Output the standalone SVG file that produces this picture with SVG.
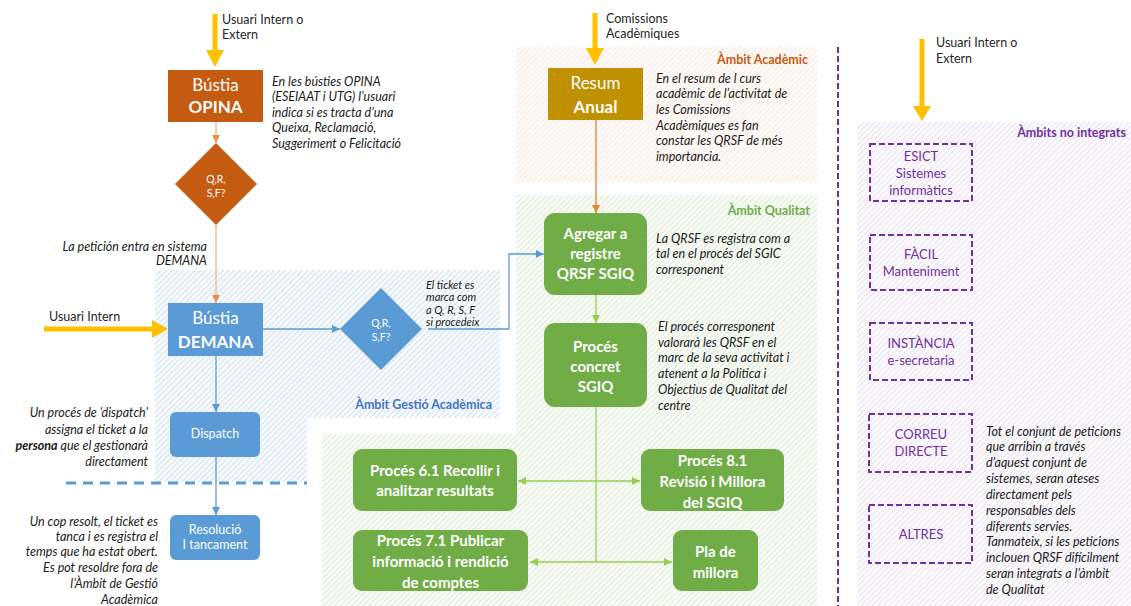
<svg xmlns="http://www.w3.org/2000/svg" width="1131" height="606" viewBox="0 0 1131 606">
<style>
text{font-family:Lato,"Liberation Sans",sans-serif;}
.lbl{font-size:12.5px;fill:#262626;}
.ann{font-size:12.5px;font-style:italic;fill:#1a1a1a;}
.ann2{font-size:11px;font-style:italic;fill:#1a1a1a;}
.annr{font-size:12.5px;font-style:italic;fill:#1a1a1a;text-anchor:end;}
.bt{fill:#fff;text-anchor:middle;}
.big{font-size:17px;}
.bold{font-weight:bold;}
.gt{font-size:15px;font-weight:bold;fill:#fff;text-anchor:middle;}
.sm{font-size:12.5px;}
.dt{font-size:10.5px;fill:#fff;text-anchor:middle;}
.pt{font-size:13px;fill:#7030A0;text-anchor:middle;}
.reg{font-size:12.5px;font-weight:bold;text-anchor:end;}
.yel{fill:#FFC000;}
.ys{stroke:#FFC000;stroke-width:5;fill:none;}
.co{stroke:#F4B183;stroke-width:1.3;fill:none;marker-end:url(#ao);}
.co2{stroke:#ED7D31;stroke-width:1.3;fill:none;marker-end:url(#ao2);}
.cb{stroke:#5B9BD5;stroke-width:1.3;fill:none;marker-end:url(#ab);}
.cg{stroke:#92D050;stroke-width:1.3;fill:none;}
.cga{stroke:#92D050;stroke-width:1.3;fill:none;marker-start:url(#ags);marker-end:url(#ag);}
.pd{fill:none;stroke:#7030A0;stroke-width:2;stroke-dasharray:6 3;}
</style>
<defs>
<pattern id="hb" width="4" height="4" patternUnits="userSpaceOnUse" patternTransform="rotate(45)"><rect width="4" height="4" fill="#fff"/><line x1="1" y1="0" x2="1" y2="4" stroke="#C9DCF0" stroke-width="1.2"/></pattern>
<pattern id="hg" width="4" height="4" patternUnits="userSpaceOnUse" patternTransform="rotate(45)"><rect width="4" height="4" fill="#fff"/><line x1="1" y1="0" x2="1" y2="4" stroke="#D6E9C8" stroke-width="1.2"/></pattern>
<pattern id="ho" width="4" height="4" patternUnits="userSpaceOnUse" patternTransform="rotate(45)"><rect width="4" height="4" fill="#fff"/><line x1="1" y1="0" x2="1" y2="4" stroke="#FBE5D9" stroke-width="1.2"/></pattern>
<pattern id="hp" width="4" height="4" patternUnits="userSpaceOnUse" patternTransform="rotate(45)"><rect width="4" height="4" fill="#fff"/><line x1="1" y1="0" x2="1" y2="4" stroke="#E6DDF1" stroke-width="1.2"/></pattern>
<marker id="ao" markerUnits="userSpaceOnUse" markerWidth="9" markerHeight="8" refX="8" refY="4" orient="auto"><path d="M0,0 L8,4 L0,8 z" fill="#F08A4B"/></marker>
<marker id="ao2" markerUnits="userSpaceOnUse" markerWidth="9" markerHeight="8" refX="8" refY="4" orient="auto"><path d="M0,0 L8,4 L0,8 z" fill="#ED7D31"/></marker>
<marker id="ab" markerUnits="userSpaceOnUse" markerWidth="9" markerHeight="8" refX="8" refY="4" orient="auto"><path d="M0,0 L8,4 L0,8 z" fill="#5B9BD5"/></marker>
<marker id="ag" markerUnits="userSpaceOnUse" markerWidth="9" markerHeight="8" refX="8" refY="4" orient="auto"><path d="M0,0 L8,4 L0,8 z" fill="#92D050"/></marker>
<marker id="ags" markerUnits="userSpaceOnUse" markerWidth="9" markerHeight="8" refX="0" refY="4" orient="auto"><path d="M8,0 L0,4 L8,8 z" fill="#92D050"/></marker>
</defs>
<rect width="1131" height="606" fill="#fff"/>

<g id="regions">
<rect x="155" y="270" width="345" height="212" fill="url(#hb)"/>
<rect x="516" y="47" width="301" height="135" fill="url(#ho)"/>
<rect x="307" y="418" width="215" height="70" fill="#fff"/>
<path d="M516,195 H817 V606 H322 V434 H516 Z" fill="url(#hg)"/>
<rect x="857" y="122" width="274" height="484" fill="url(#hp)"/>
<text class="reg" x="808" y="64" fill="#C55A11">Àmbit Acadèmic</text>
<text class="reg" x="810" y="215" fill="#70AD47">Àmbit Qualitat</text>
<text class="reg" x="492" y="409" fill="#4472C4">Àmbit Gestió Acadèmica</text>
<text class="reg" x="1126" y="137" fill="#7030A0">Àmbits no integrats</text>
<line x1="66" y1="483" x2="307" y2="483" stroke="#5B9BD5" stroke-width="3" stroke-dasharray="10 7"/>
<line x1="838" y1="47" x2="838" y2="606" stroke="#7030A0" stroke-width="2" stroke-dasharray="6 3"/>
</g>

<g id="connectors">
<line class="ys" x1="215" y1="14" x2="215" y2="51"/><polygon class="yel" points="206,50 224,50 215,67"/>
<line class="ys" x1="595" y1="13" x2="595" y2="49"/><polygon class="yel" points="586,48 604,48 595,65"/>
<line class="ys" x1="922" y1="39" x2="922" y2="107"/><polygon class="yel" points="913,106 931,106 922,121"/>
<line class="ys" x1="44" y1="329" x2="153" y2="329"/><polygon class="yel" points="152,320 168,329 152,338"/>
<line class="co" x1="216" y1="122" x2="216" y2="143"/>
<line class="co" x1="216" y1="225" x2="216" y2="303"/>
<line class="cb" x1="263" y1="329" x2="340" y2="329"/>
<path class="cb" d="M428,329 H509 V254 H544"/>
<line class="cb" x1="216" y1="356" x2="216" y2="412"/>
<line class="cb" x1="216" y1="457" x2="216" y2="515"/>
<line class="co2" x1="596" y1="120" x2="596" y2="213"/>
<line class="cg" x1="596" y1="295" x2="596" y2="323" marker-end="url(#ag)"/>
<line class="cg" x1="596" y1="407" x2="596" y2="562"/>
<line class="cga" x1="518" y1="481" x2="640" y2="481"/>
<line class="cga" x1="530" y1="562" x2="672" y2="562"/>
</g>

<g id="opina">
<rect x="168" y="70" width="95" height="52" fill="#C55A11"/>
<text class="bt big" x="215.5" y="91">Bústia</text>
<text class="bt big bold" x="215.5" y="113">OPINA</text>
</g>
<g id="dec1">
<polygon points="216,143 257,184 216,225 175,184" fill="#C55A11"/>
<text class="dt" x="216" y="183">Q,R,</text>
<text class="dt" x="216" y="197">S,F?</text>
</g>
<g id="demana">
<rect x="168" y="303" width="95" height="53" fill="#5B9BD5"/>
<text class="bt big" x="215.5" y="324">Bústia</text>
<text class="bt big bold" x="215.5" y="348">DEMANA</text>
</g>
<g id="dec2">
<polygon points="381,288 422,329 381,370 340,329" fill="#5B9BD5"/>
<text class="dt" x="381" y="327">Q,R,</text>
<text class="dt" x="381" y="341">S,F?</text>
</g>
<g id="dispatch">
<rect x="170" y="412" width="90" height="45" rx="6" fill="#5B9BD5"/>
<text class="bt sm" x="215" y="438">Dispatch</text>
</g>
<g id="resolucio">
<rect x="170" y="515" width="90" height="45" rx="6" fill="#5B9BD5"/>
<text class="bt sm" x="215" y="534">Resolució</text>
<text class="bt sm" x="215" y="549">I tancament</text>
</g>
<g id="resum">
<rect x="548" y="68" width="95" height="52" fill="#BF9000"/>
<text class="bt big" x="595.5" y="89">Resum</text>
<text class="bt big bold" x="595.5" y="113">Anual</text>
</g>
<g id="agregar">
<rect x="544" y="213" width="103" height="82" rx="11" fill="#70AD47"/>
<text class="gt" x="595.5" y="239">Agregar a</text>
<text class="gt" x="595.5" y="259">registre</text>
<text class="gt" x="595.5" y="279">QRSF SGIQ</text>
</g>
<g id="concret">
<rect x="544" y="323" width="103" height="84" rx="11" fill="#70AD47"/>
<text class="gt" x="595.5" y="352">Procés</text>
<text class="gt" x="595.5" y="372">concret</text>
<text class="gt" x="595.5" y="392">SGIQ</text>
</g>
<g id="p61">
<rect x="353" y="449" width="164" height="62" rx="9" fill="#70AD47"/>
<text class="gt" x="435" y="476">Procés 6.1 Recollir i</text>
<text class="gt" x="435" y="496">analitzar resultats</text>
</g>
<g id="p81">
<rect x="641" y="449" width="143" height="62" rx="9" fill="#70AD47"/>
<text class="gt" x="712.5" y="466">Procés 8.1</text>
<text class="gt" x="712.5" y="487">Revisió i Millora</text>
<text class="gt" x="712.5" y="508">del SGIQ</text>
</g>
<g id="p71">
<rect x="353" y="530" width="175" height="61" rx="9" fill="#70AD47"/>
<text class="gt" x="440.5" y="546">Procés 7.1 Publicar</text>
<text class="gt" x="440.5" y="567">informació i rendició</text>
<text class="gt" x="440.5" y="588">de comptes</text>
</g>
<g id="pla">
<rect x="673" y="530" width="85" height="61" rx="9" fill="#70AD47"/>
<text class="gt" x="715.5" y="557">Pla de</text>
<text class="gt" x="715.5" y="578">millora</text>
</g>
<g id="esict">
<rect class="pd" x="870" y="144" width="102" height="57"/>
<text class="pt" x="921" y="161">ESICT</text>
<text class="pt" x="921" y="178">Sistemes</text>
<text class="pt" x="921" y="195">informàtics</text>
</g>
<g id="facil">
<rect class="pd" x="870" y="235" width="102" height="55"/>
<text class="pt" x="921" y="259">FÀCIL</text>
<text class="pt" x="921" y="276">Manteniment</text>
</g>
<g id="instancia">
<rect class="pd" x="870" y="323" width="102" height="57"/>
<text class="pt" x="921" y="348">INSTÀNCIA</text>
<text class="pt" x="921" y="365">e-secretaria</text>
</g>
<g id="correu">
<rect class="pd" x="869" y="414" width="103" height="58"/>
<text class="pt" x="921" y="439">CORREU</text>
<text class="pt" x="921" y="456">DIRECTE</text>
</g>
<g id="altres">
<rect class="pd" x="869" y="505" width="103" height="58"/>
<text class="pt" x="921" y="539">ALTRES</text>
</g>

<g id="labels">
<text class="lbl" x="222" y="24">Usuari Intern o</text>
<text class="lbl" x="222" y="39">Extern</text>
<text class="lbl" x="606" y="23">Comissions</text>
<text class="lbl" x="606" y="38">Acadèmiques</text>
<text class="lbl" x="936" y="47">Usuari Intern o</text>
<text class="lbl" x="936" y="63">Extern</text>
<text class="lbl" x="49" y="321">Usuari Intern</text>
<text class="ann" x="272" y="86">En les bústies OPINA</text>
<text class="ann" x="272" y="101">(ESEIAAT i UTG) l’usuari</text>
<text class="ann" x="272" y="117">indica si es tracta d’una</text>
<text class="ann" x="272" y="132">Queixa, Reclamació,</text>
<text class="ann" x="272" y="148">Suggeriment o Felicitació</text>
<text class="annr" x="207" y="251">La petición entra en sistema</text>
<text class="annr" x="207" y="265">DEMANA</text>
<text class="ann2" x="426" y="288.5">El ticket es</text>
<text class="ann2" x="426" y="301">marca com</text>
<text class="ann2" x="426" y="313.5">a Q, R, S, F</text>
<text class="ann2" x="426" y="326">si procedeix</text>
<text class="annr" x="148" y="417">Un procés de ‘dispatch’</text>
<text class="annr" x="148" y="434">assigna el ticket a la</text>
<text class="annr" x="148" y="450"><tspan font-weight="bold">persona</tspan> que el gestionarà</text>
<text class="annr" x="148" y="466">directament</text>
<text class="annr" x="158" y="526">Un cop resolt, el ticket es</text>
<text class="annr" x="158" y="541">tanca i es registra el</text>
<text class="annr" x="158" y="556">temps que ha estat obert.</text>
<text class="annr" x="158" y="572">Es pot resoldre fora de</text>
<text class="annr" x="158" y="588">l’Àmbit de Gestió</text>
<text class="annr" x="158" y="604">Acadèmica</text>
<text class="ann" x="656" y="83">En el resum de l curs</text>
<text class="ann" x="656" y="98">acadèmic de l’activitat de</text>
<text class="ann" x="656" y="114">les Comissions</text>
<text class="ann" x="656" y="130">Acadèmiques es fan</text>
<text class="ann" x="656" y="145">constar les QRSF de més</text>
<text class="ann" x="656" y="161">importancia.</text>
<text class="ann" x="656" y="243">La QRSF es registra com a</text>
<text class="ann" x="656" y="258">tal en el procés del SGIC</text>
<text class="ann" x="656" y="274">corresponent</text>
<text class="ann" x="658" y="331">El procés corresponent</text>
<text class="ann" x="658" y="347">valorarà les QRSF en el</text>
<text class="ann" x="658" y="362">marc de la seva activitat i</text>
<text class="ann" x="658" y="378">atenent a la Politica i</text>
<text class="ann" x="658" y="394">Objectius de Qualitat del</text>
<text class="ann" x="658" y="410">centre</text>
<text class="ann" x="986" y="436">Tot el conjunt de peticions</text>
<text class="ann" x="986" y="451">que arribin a través</text>
<text class="ann" x="986" y="467">d’aquest conjunt de</text>
<text class="ann" x="986" y="483">sistemes, seran ateses</text>
<text class="ann" x="986" y="499">directament pels</text>
<text class="ann" x="986" y="515">responsables dels</text>
<text class="ann" x="986" y="531">diferents servies.</text>
<text class="ann" x="986" y="546">Tanmateix, si les peticions</text>
<text class="ann" x="986" y="562">inclouen QRSF difícilment</text>
<text class="ann" x="986" y="578">seran integrats a l’àmbit</text>
<text class="ann" x="986" y="594">de Qualitat</text>
</g>
</svg>
